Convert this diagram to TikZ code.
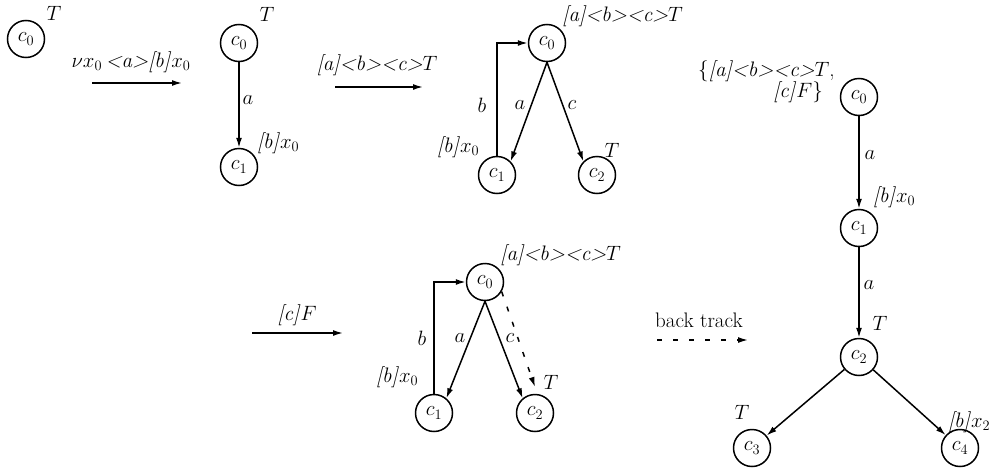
\documentclass[tikz,border=0pt]{standalone}
\usepackage{fontspec}
\usetikzlibrary{arrows.meta}
\tikzset{
  st/.style={circle,draw,line width=1.5pt,minimum size=37pt,inner sep=0pt},
  lbl/.style={inner sep=0pt},
  edg/.style={line width=1.5pt,-{Latex[length=10pt,width=6pt]}},
  dedg/.style={edg,dash pattern=on 5pt off 11pt},
}
\newcommand{\lb}[1]{\textit{#1}}
\begin{document}
\begin{tikzpicture}[x=1pt,y=-1pt,every node/.style={font=\fontsize{21}{24}\selectfont}]
\useasboundingbox (0,0) rectangle (1002,474);

% graph 1
\node[st] (a0) at (26,39) {$c_0$};
\node[lbl] (aT) at (54,13) {$T$};

% transition 1
\node[lbl] (t1) at (131,62) {$\nu x_0$\,\lb{<a>[b]}$x_0$};
\coordinate (t1s) at (92,83); \coordinate (t1e) at (182,83);
\draw[edg] (t1s) -- (t1e);

% graph 2
\node[st] (b0) at (239,43) {$c_0$};
\node[st] (b1) at (239,167) {$c_1$};
\node[lbl] (bT) at (267,14) {$T$};
\draw[edg] (b0) -- (b1);
\node[lbl] (ba) at (248,100) {$a$};
\node[lbl] (bb) at (278,143) {\lb{[b]}$x_0$};

% transition 2
\node[lbl] (t2) at (377,65) {\lb{[a]<b><c>}$T$};
\coordinate (t2s) at (335,87); \coordinate (t2e) at (423,87);
\draw[edg] (t2s) -- (t2e);

% graph 3
\node[st] (g0) at (547,43) {$c_0$};
\node[st] (g1) at (497,175) {$c_1$};
\node[st] (g2) at (597,175) {$c_2$};
\node[lbl,anchor=west] (gtop) at (562,16) {\lb{[a]<b><c>}$T$};
\draw[edg] (g0.south) -- (g1.45);
\draw[edg] (g0.south) -- (g2.135);
\draw[edg] (g1.north) |- (g0.west);
\node[lbl] (gb) at (482,105) {$b$};
\node[lbl] (ga) at (520,105) {$a$};
\node[lbl] (gc) at (572,105) {$c$};
\node[lbl] (gx) at (458,147) {\lb{[b]}$x_0$};
\node[lbl] (gT) at (612,150) {$T$};

% transition 3
\node[lbl] (t3) at (297,315) {\lb{[c]}$F$};
\coordinate (t3s) at (252,333); \coordinate (t3e) at (343,333);
\draw[edg] (t3s) -- (t3e);

% graph 4
\node[st] (h0) at (485,282) {$c_0$};
\node[st] (h1) at (434,413) {$c_1$};
\node[st] (h2) at (535,413) {$c_2$};
\node[lbl,anchor=west] (htop) at (500,255) {\lb{[a]<b><c>}$T$};
\draw[edg] (h0.south) -- (h1.50);
\draw[edg] (h0.south) -- (h2.130);
\draw[edg] (h1.north) |- (h0.west);
\coordinate (hd) at (535,387);
\draw[dedg] (h0.-30) -- (hd);
\node[lbl] (hb) at (422,338) {$b$};
\node[lbl] (ha) at (460,338) {$a$};
\node[lbl] (hc) at (510,338) {$c$};
\node[lbl] (hx) at (397,377) {\lb{[b]}$x_0$};
\node[lbl] (hT) at (551,382) {$T$};

% back track
\node[lbl] (bt) at (699,320) {back track};
\coordinate (bts) at (657,340); \coordinate (bte) at (748,340);
\draw[dedg] (bts) -- (bte);

% graph 5
\node[st] (k0) at (859,97) {$c_0$};
\node[st] (k1) at (859,228) {$c_1$};
\node[st] (k2) at (859,357) {$c_2$};
\node[st] (k3) at (752,448) {$c_3$};
\node[st] (k4) at (960,448) {$c_4$};
\node[lbl,anchor=west] (kl1) at (698,71) {\{\lb{[a]<b><c>}$T$,};
\node[lbl,anchor=east] (kl2) at (823,92) {\lb{[c]}$F$\}};
\draw[edg] (k0) -- (k1);
\draw[edg] (k1) -- (k2);
\draw[edg] (k2) -- (k3);
\draw[edg] (k2) -- (k4);
\node[lbl] (ka1) at (870,155) {$a$};
\node[lbl] (kx) at (894,197) {\lb{[b]}$x_0$};
\node[lbl] (ka2) at (869,285) {$a$};
\node[lbl] (kT) at (880,323) {$T$};
\node[lbl] (kT3) at (742,412) {$T$};
\node[lbl] (kx2) at (969,422) {\lb{[b]}$x_2$};
\end{tikzpicture}
\end{document}
